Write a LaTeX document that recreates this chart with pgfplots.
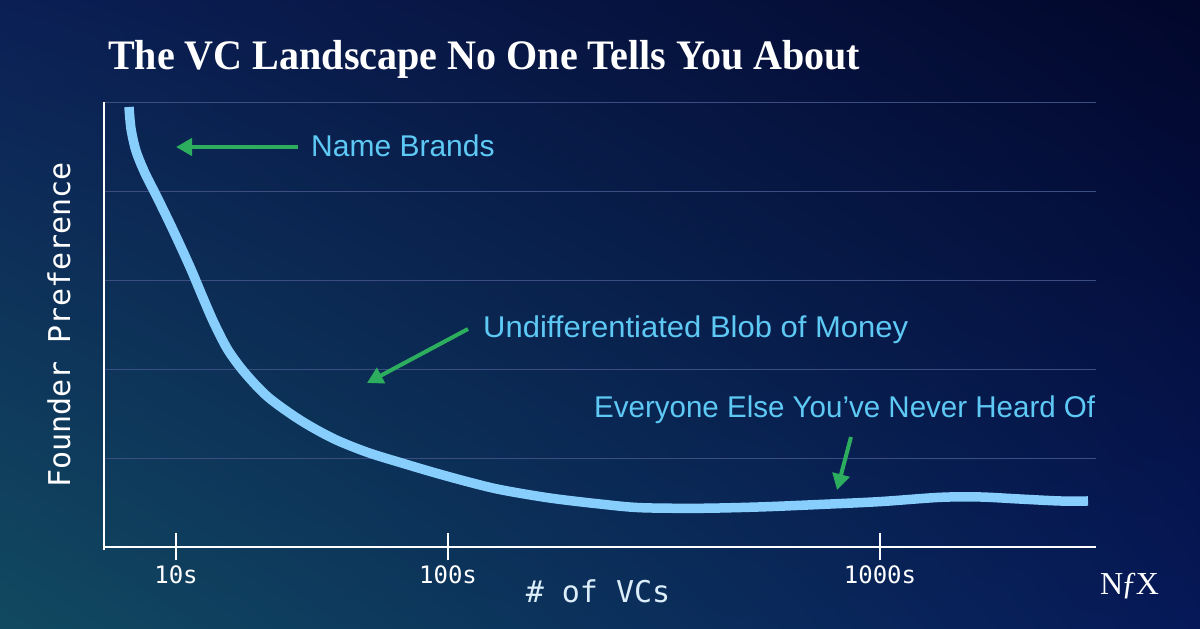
\documentclass[border=0pt]{standalone}
\usepackage{pgfplots}
\pgfplotsset{compat=1.18}
\usepackage{fontspec}
\usepackage{graphicx}
\usetikzlibrary{arrows.meta,shadings}
\setmainfont{Liberation Sans}
\setmonofont{DejaVu Sans Mono}
\newfontfamily\titlefont{Liberation Serif}
\definecolor{bgUL}{HTML}{0B1F55}
\definecolor{bgUR}{HTML}{02072B}
\definecolor{bgLL}{HTML}{114A60}
\definecolor{bgLR}{HTML}{061858}
\definecolor{curve}{HTML}{88CEFC}
\definecolor{note}{HTML}{5DC9F4}
\definecolor{arrowc}{HTML}{2DAE5E}
\definecolor{gridc}{HTML}{3C4D82}
\definecolor{labelc}{HTML}{DCEEF9}

\begin{document}
\begin{tikzpicture}[x=1pt,y=1pt]
% background
\shade[upper left=bgUL, upper right=bgUR, lower left=bgLL, lower right=bgLR]
  (0,0) rectangle (1200,629);

% title
\node[anchor=base west, text=white, inner sep=0pt] at (108,559)
  {\resizebox{752pt}{\height}{\titlefont\bfseries\fontsize{42}{46}\selectfont The VC Landscape No One Tells You About}};

\draw[white, line width=2pt] (104,527) -- (104,79);

\begin{axis}[
    at={(104pt,82pt)}, anchor=south west,
    scale only axis,
    width=992pt, height=445pt,
    xmin=104, xmax=1096,
    ymin=0, ymax=5,
    axis x line=bottom, axis y line=left,
    axis line style={white, line width=2pt, -},
    xtick={176,448,880},
    xticklabels={\texttt{10s},\texttt{100s},\texttt{1000s}},
    xticklabel style={text=white, font=\fontsize{24}{28}\selectfont, yshift=-2pt},
    xtick style={white, line width=2pt},
    major tick length=27pt,
    tick align=center,
    ytick={1,2,3,4,5},
    yticklabels=\empty,
    ytick style={draw=none},
    ymajorgrids=true,
    grid style={gridc, line width=0.9pt},
    clip=false,
  ]
  \addplot[smooth, curve, line width=9.5pt] coordinates {
      (129,4.944)
      (131,4.700)
      (136,4.450)
      (145,4.200)
      (157,3.933)
      (173,3.562)
      (190,3.146)
      (203,2.800)
      (214,2.517)
      (228,2.213)
      (245,1.955)
      (268,1.685)
      (300,1.427)
      (333,1.220)
      (367,1.065)
      (400,0.950)
      (433,0.840)
      (467,0.735)
      (500,0.645)
      (550,0.550)
      (600,0.483)
      (640,0.442)
      (700,0.435)
      (760,0.450)
      (820,0.478)
      (880,0.510)
      (940,0.558)
      (980,0.562)
      (1020,0.539)
      (1060,0.517)
      (1088,0.517)
    };
\end{axis}

% axis titles
\node[rotate=90, anchor=base, text=white, inner sep=0pt] at (70,304)
  {\ttfamily\fontsize{30}{34}\selectfont Founder Preference};
\node[anchor=base, text=labelc, inner sep=0pt] at (598,26)
  {\ttfamily\fontsize{30}{34}\selectfont \# of VCs};

% annotations
\draw[arrowc, line width=4pt, -{Triangle[length=16pt,width=17pt]}] (298,482) -- (176,482);
\node[anchor=base west, text=note, inner sep=0pt] at (311,472)
  {\fontsize{30}{34}\selectfont Name Brands};
\draw[arrowc, line width=4pt, -{Triangle[length=16pt,width=17pt]}] (468,300) -- (367,246);
\node[anchor=base west, text=note, inner sep=0pt] at (483,291)
  {\resizebox{425pt}{\height}{\fontsize{30}{34}\selectfont Undifferentiated Blob of Money}};
\draw[arrowc, line width=4pt, -{Triangle[length=16pt,width=17pt]}] (851,192) -- (837,139);
\node[anchor=base west, text=note, inner sep=0pt] at (594,211)
  {\resizebox{501pt}{\height}{\fontsize{30}{34}\selectfont Everyone Else You’ve Never Heard Of}};

% logo
\node[anchor=base west, text=white, inner sep=0pt] at (1100,34)
  {\titlefont\fontsize{32}{36}\selectfont N\kern-2pt ƒ\kern-1.5pt X};

\pgfresetboundingbox
\path (0,0) rectangle (1200,629);
\end{tikzpicture}
\end{document}
